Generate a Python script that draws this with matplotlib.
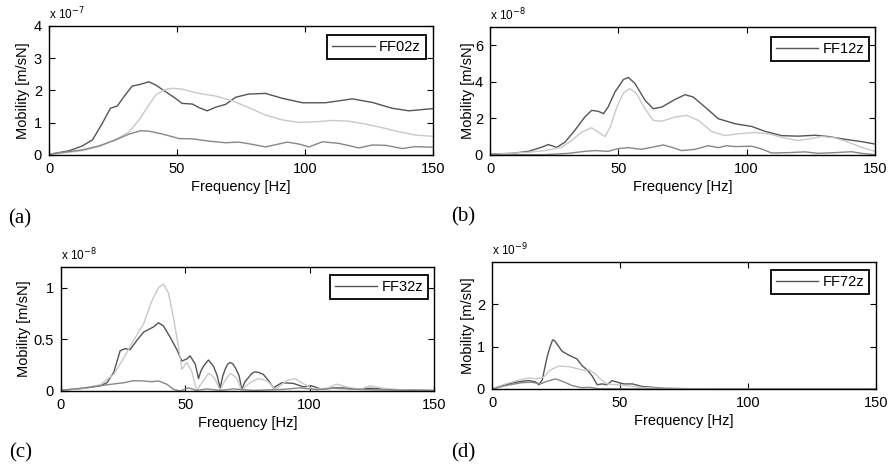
import matplotlib
matplotlib.use("Agg")
import matplotlib.pyplot as plt

# Curvas (frecuencia [Hz], movilidad en unidades del exponente)
# ── (a) FF02z, x 1e-7 ─────────────────────────────────────────────────────────
fa_dark = [0, 7.8, 13, 17, 20.8, 24, 26.7, 29.3, 32.5, 35.2, 39, 41.7, 45.6, 48.8,
           52, 56, 58.6, 61.8, 65, 69, 72.9, 78, 84.6, 91, 99, 108, 118.5, 126.3,
           134, 140.6, 150]
ya_dark = [0.02, 0.13, 0.28, 0.47, 0.98, 1.45, 1.52, 1.81, 2.14, 2.18, 2.27, 2.17,
           1.96, 1.79, 1.6, 1.58, 1.47, 1.37, 1.48, 1.57, 1.79, 1.89, 1.91, 1.76,
           1.62, 1.62, 1.74, 1.63, 1.45, 1.37, 1.44]
fa_light = [0, 13, 19.5, 26, 31.3, 35.2, 39, 41.7, 44.9, 48.2, 52, 58.6, 65, 71.6,
            78, 84.6, 91, 97.6, 104, 110.7, 117, 123.7, 130, 136.7, 143, 150]
ya_light = [0.02, 0.13, 0.26, 0.47, 0.72, 1.09, 1.55, 1.86, 2.02, 2.07, 2.04, 1.91,
            1.83, 1.68, 1.47, 1.24, 1.09, 1.01, 1.03, 1.07, 1.05, 0.96, 0.85, 0.72,
            0.62, 0.58]
fa_mid = [0, 13, 19.5, 26, 31.3, 35.8, 39, 44.3, 50.8, 56, 62.5, 69, 74.2, 79.4,
          84.6, 93.1, 97.6, 101.6, 106.8, 113.3, 121, 126.3, 131.5, 138, 143, 150]
ya_mid = [0.02, 0.16, 0.28, 0.47, 0.65, 0.75, 0.74, 0.65, 0.51, 0.5, 0.43, 0.38,
          0.4, 0.33, 0.25, 0.4, 0.34, 0.25, 0.41, 0.36, 0.22, 0.31, 0.3, 0.2, 0.26,
          0.24]

# ── (b) FF12z, x 1e-8 ─────────────────────────────────────────────────────────
fb_dark = [0, 8.4, 15, 20, 22.7, 26, 29.2, 33, 36.9, 39.6, 42.2, 44.2, 46, 48.7,
           52, 53.9, 56.5, 60.4, 63.6, 66.9, 72, 76, 79.2, 83.8, 89, 95.5, 102,
           107, 113.6, 120, 126.6, 131.8, 138.3, 144.8, 150]
yb_dark = [0.05, 0.09, 0.2, 0.42, 0.57, 0.42, 0.7, 1.34, 2.07, 2.44, 2.39, 2.26,
           2.62, 3.45, 4.13, 4.24, 3.91, 2.99, 2.53, 2.62, 3.03, 3.3, 3.17, 2.62,
           1.98, 1.71, 1.56, 1.3, 1.06, 1.03, 1.08, 1.01, 0.86, 0.73, 0.6]
fb_light = [0, 15, 21.4, 27.9, 31.8, 35.7, 39.6, 42.2, 44.8, 46.8, 49.4, 52, 54.5,
            57.1, 60.4, 63.6, 66.9, 72, 76.6, 81.2, 86.4, 91.6, 96.8, 103.2, 108.4,
            115, 120, 125.3, 129.2, 134.4, 139.6, 144.8, 150]
yb_light = [0.03, 0.15, 0.24, 0.42, 0.79, 1.25, 1.49, 1.25, 1.01, 1.52, 2.62, 3.39,
            3.63, 3.36, 2.53, 1.89, 1.85, 2.07, 2.17, 1.89, 1.28, 1.06, 1.16, 1.23,
            1.16, 0.92, 0.79, 0.9, 1.01, 0.94, 0.7, 0.42, 0.2]
fb_mid = [0, 21.4, 30.5, 37, 40.9, 46, 50, 53.9, 59, 63, 67.5, 70.8, 74.7, 79.9,
          85, 89, 92.2, 95.5, 102, 105.8, 109.7, 116.2, 122.7, 127.9, 134.4, 140.9,
          144.8, 150]
yb_mid = [0.02, 0.02, 0.09, 0.2, 0.24, 0.2, 0.35, 0.4, 0.31, 0.42, 0.55, 0.42, 0.24,
          0.31, 0.51, 0.4, 0.51, 0.46, 0.48, 0.33, 0.11, 0.13, 0.17, 0.09, 0.13,
          0.18, 0.09, 0.02]

# ── (c) FF32z, x 1e-8 ─────────────────────────────────────────────────────────
fc_dark = [0, 9.1, 15.8, 18.5, 21.2, 23.8, 25.8, 27.8, 30.5, 33.2, 37.2, 39.2, 41.2,
           43.9, 46.6, 48.6, 50.6, 51.9, 54, 55.3, 56.2, 57.3, 59.3, 61.3, 62.8, 64,
           65, 66, 67, 68, 69, 70, 71.6, 72.7, 74, 75.4, 76.7, 78, 79.5, 81.4, 83.5,
           85.4, 88.8, 93.4, 97.5, 100.8, 104.8, 109.5, 113.5, 118.9, 124.2,
           133.6, 150]
yc_dark = [0.006, 0.026, 0.05, 0.08, 0.18, 0.39, 0.41, 0.40, 0.49, 0.57, 0.62, 0.66,
           0.63, 0.52, 0.40, 0.29, 0.31, 0.34, 0.26, 0.12, 0.19, 0.24, 0.30, 0.24,
           0.15, 0.026, 0.14, 0.21, 0.26, 0.275, 0.265, 0.23, 0.15, 0.016, 0.09,
           0.13, 0.17, 0.185, 0.18, 0.16, 0.10, 0.03, 0.08, 0.074, 0.04, 0.05,
           0.016, 0.03, 0.03, 0.016, 0.026, 0.013, 0.006]
fc_light = [0, 9.1, 15.8, 21.2, 25.2, 29.2, 33.2, 36.5, 39.2, 41.2, 43.2, 45.2, 47.3,
            48.6, 50.6, 52.6, 54.6, 56, 57.3, 59.3, 60.7, 62, 63, 64, 65, 66, 68,
            69.5, 70.7, 71.8, 72.7, 74.5, 76, 79.4, 82.7, 84.5, 86, 90.8, 94.1,
            97.5, 101.5, 106.8, 110.8, 114.9, 120.2, 124.2, 129.6, 136.3, 150]
yc_light = [0.006, 0.026, 0.06, 0.16, 0.32, 0.49, 0.65, 0.87, 1.0, 1.035, 0.95, 0.71,
            0.42, 0.21, 0.275, 0.19, 0.0, 0.06, 0.10, 0.17, 0.15, 0.11, 0.06, 0.006,
            0.06, 0.10, 0.17, 0.15, 0.12, 0.06, 0.006, 0.05, 0.08, 0.12, 0.10,
            0.06, 0.013, 0.10, 0.12, 0.07, 0.016, 0.026, 0.065, 0.04, 0.016, 0.05,
            0.026, 0.013, 0.003]
fc_mid = [0, 9.1, 18.5, 25.2, 29.2, 33.2, 36.5, 39.2, 42.6, 45.2, 47.9, 51.3, 54.6,
          58.6, 64, 69.3, 77.4, 89.4, 96.1, 102.8, 109.5, 122.9, 150]
yc_mid = [0.006, 0.03, 0.06, 0.08, 0.10, 0.097, 0.09, 0.097, 0.065, 0.016, 0.0, 0.03,
          0.006, 0.02, 0.006, 0.02, 0.006, 0.016, 0.03, 0.013, 0.026, 0.013, 0.003]

# ── (d) FF72z, x 1e-9 ─────────────────────────────────────────────────────────
fd_dark = [0, 5.2, 10.4, 14.3, 17, 18.3, 19.6, 21.5, 22.7, 23.7, 24.5, 25.4, 27.4,
           30, 33.2, 35.2, 37.2, 39.1, 41.1, 43, 45, 46.9, 48.9, 51.5, 54.8, 58.7,
           62.6, 67.8, 75.6, 150]
yd_dark = [0, 0.1, 0.17, 0.2, 0.17, 0.1, 0.21, 0.75, 1.0, 1.16, 1.14, 1.06, 0.89,
           0.8, 0.71, 0.55, 0.45, 0.31, 0.1, 0.12, 0.1, 0.2, 0.16, 0.12, 0.12, 0.06,
           0.04, 0.016, 0.008, 0]
fd_light = [0, 5.2, 10.4, 14.3, 17.6, 20.2, 22.8, 26, 30, 33.9, 36.5, 37.8, 40.4, 43,
            45, 48.2, 52.2, 57.4, 65.2, 75.6, 150]
yd_light = [0, 0.12, 0.21, 0.26, 0.24, 0.28, 0.45, 0.54, 0.53, 0.47, 0.43, 0.46,
            0.35, 0.2, 0.12, 0.1, 0.08, 0.04, 0.016, 0.008, 0]
fd_mid = [0, 5.2, 11.7, 15.6, 18.9, 21.5, 24.8, 28, 31.3, 35.2, 37.8, 41.7, 60, 150]
yd_mid = [0, 0.08, 0.15, 0.16, 0.12, 0.18, 0.24, 0.17, 0.08, 0.03, 0.04, 0.008, 0, 0]

x_ticks = [0, 50, 100, 150]
panel_names = ["FF02z", "FF12z", "FF32z", "FF72z"]
panel_tags = ["(a)", "(b)", "(c)", "(d)"]
exponents = [-7, -8, -8, -9]
y_limits = [4, 7, 1.2, 3]
y_ticks = [[0, 1, 2, 3, 4], [0, 2, 4, 6], [0, 0.5, 1], [0, 1, 2]]

DARK, LIGHT, MID = "#555555", "#c9c9c9", "#878787"
W, H = 891, 468

plt.rcParams["font.family"] = ["Liberation Sans", "DejaVu Sans"]

fig = plt.figure(figsize=(W / 100, H / 100), dpi=100)

# rect en pixeles (izq, arriba, der, abajo)
rects = [(49, 26, 433, 155), (490, 27, 875, 155),
         (61, 267, 434, 391), (492, 262, 876, 389)]
ylabel_x = [30, 475, 31, 475]
tag_pos = [(8, 219), (451, 217), (9, 453), (451, 453)]
legend_corner = [(426, 35), (869, 37), (428, 275), (869, 270)]

series = [
    ((fa_dark, ya_dark), (fa_light, ya_light), (fa_mid, ya_mid)),
    ((fb_dark, yb_dark), (fb_light, yb_light), (fb_mid, yb_mid)),
    ((fc_dark, yc_dark), (fc_light, yc_light), (fc_mid, yc_mid)),
    ((fd_dark, yd_dark), (fd_light, yd_light), (fd_mid, yd_mid)),
]

for i, (l, t, r, b) in enumerate(rects):
    ax = fig.add_axes([l / W, 1 - b / H, (r - l) / W, (b - t) / H])
    (fd, yd), (fl, yl), (fm, ym) = series[i]
    ax.plot(fd, yd, color=DARK, lw=1.0, label=panel_names[i])
    ax.plot(fl, yl, color=LIGHT, lw=1.0)
    ax.plot(fm, ym, color=MID, lw=1.0)

    ax.set_xlim(0, 150)
    ax.set_ylim(0, y_limits[i])
    ax.set_xticks(x_ticks)
    ax.set_yticks(y_ticks[i])
    ax.set_yticklabels([f"{v:g}" for v in y_ticks[i]])
    ax.tick_params(direction="in", top=True, right=True, length=4, width=0.8,
                   labelsize=10.5, pad=5)
    for sp in ax.spines.values():
        sp.set_linewidth(1.0)

    ax.set_xlabel("Frequency [Hz]", fontsize=10.5, labelpad=3)
    ax.set_ylabel("Mobility [m/sN]", fontsize=10.5)
    ax.yaxis.set_label_coords((ylabel_x[i] - l) / (r - l), 0.5)

    ax.text(0, 1.03, f"x 10$^{{{exponents[i]}}}$", transform=ax.transAxes,
            fontsize=8.5, ha="left", va="bottom")

    lx, ly = legend_corner[i]
    leg = ax.legend(loc="upper right", bbox_to_anchor=(lx / W, 1 - ly / H),
                    bbox_transform=fig.transFigure, borderaxespad=0,
                    fancybox=False, framealpha=1, edgecolor="black",
                    fontsize=10.5, handlelength=2.9, handletextpad=0.3,
                    borderpad=0.35)
    leg.get_frame().set_linewidth(1.3)

    tx, ty = tag_pos[i]
    fig.text(tx / W, 1 - ty / H, panel_tags[i], fontsize=15,
             family=["Liberation Serif", "DejaVu Serif"], ha="left", va="center")

fig.savefig("out.png", dpi=100)
